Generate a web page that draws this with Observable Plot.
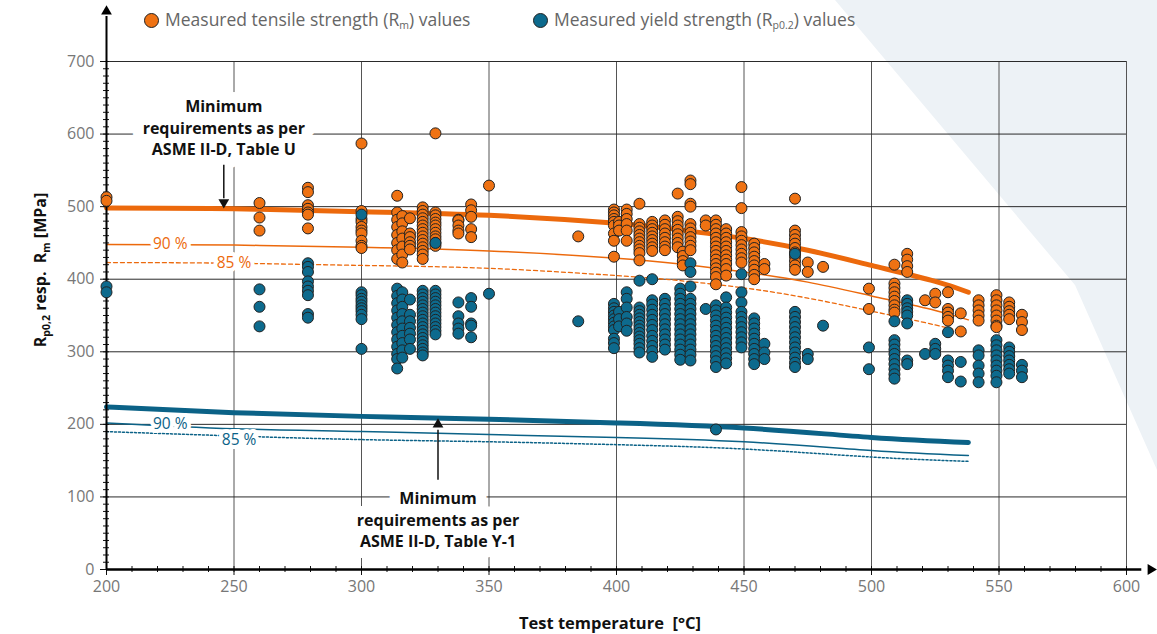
<!DOCTYPE html>
<html><head><meta charset="utf-8">
<script src="https://cdn.jsdelivr.net/npm/d3@7"></script>
<script src="https://cdn.jsdelivr.net/npm/@observablehq/plot@0.6"></script>
<style>
body{margin:0;background:#fff;font-family:"Open Sans",sans-serif;}
#wrap{position:relative;width:1157px;height:634px;overflow:hidden;}
#bg{position:absolute;left:0;top:0;width:1157px;height:634px;background:#edf2f6;clip-path:polygon(835px 0,1157px 0,1157px 470px,1075px 285px);}
#chart{position:absolute;left:0;top:0;}
.leg{position:absolute;top:7px;font-size:17.5px;color:#666;white-space:nowrap;line-height:24px;}
.leg .sw{display:inline-block;width:13px;height:13px;border-radius:50%;border:1px solid #222;vertical-align:-2px;margin-right:6px;}
.leg sub{font-size:10.5px;vertical-align:-3px;line-height:0;}
#ytitle{position:absolute;left:40px;top:270px;transform:translate(-50%,-50%) rotate(-90deg);font-weight:700;font-size:16px;color:#111;white-space:nowrap;}
#ytitle sub{font-size:10.5px;vertical-align:-4px;line-height:0;}
#xtitle{position:absolute;left:610px;top:622px;transform:translate(-50%,-50%);font-weight:700;font-size:16.5px;color:#111;white-space:nowrap;}
</style></head>
<body>
<div id="wrap">
  <div id="bg"></div>
  <div id="chart"></div>
  <div class="leg" style="left:144px"><span class="sw" style="background:#ef7213"></span>Measured tensile strength (R<sub>m</sub>) values</div>
  <div class="leg" style="left:533px"><span class="sw" style="background:#0d6a8d"></span>Measured yield strength (R<sub>p0.2</sub>) values</div>
  <div id="ytitle">R<sub>p0,2</sub> resp.&nbsp; R<sub>m</sub> [MPa]</div>
  <div id="xtitle">Test temperature&nbsp; [°C]</div>
</div>
<script>
// ---- measured values: [temperature °C, [values MPa]] ----
const tensileData = [
  [200,[513,508]],[260,[505,485,467]],[279,[526,520,502,497,492,489,470]],
  [300,[587,494,483,479,472,467,463,453,446,443]],
  [314,[515,492,482,472,461,450,440,428]],[316,[487,477,466,456,445,434,423]],
  [319,[484,463,458,451,446,441]],
  [324,[499,494,489,484,479,474,469,464,459,454,449,444,439,434,428]],
  [329,[601,492,488,483,478,474,469,464,459,455,450,446]],
  [338,[482,481,474,467,463]],[343,[503,495,486,469,458]],[350,[529]],[385,[459]],
  [399,[496,492,488,483,479,474,463,453,431]],[401,[479,474,467]],
  [404,[496,490,483,476,467,453]],[409,[504,476,471,466,461,456,451,446,441,436,426]],
  [414,[479,474,469,464,459,454,449,444,439]],[419,[481,475,469,463,457,451,445,440]],
  [424,[518,486,480,474,468,462,456,450,444]],[426,[438,432,425,419]],
  [429,[536,531,504,500,476,470,464,458,452,446,440]],[435,[481,474]],
  [439,[481,475,469,463,457,451,445,439,433,427,421,415,409,403,393]],
  [443,[469,463,457,451,445,439,433,427,421,414,405]],
  [449,[527,498,465,459,453,447,441,435,429,423]],
  [454,[449,443,437,431,425,419,413,406,400]],[458,[421,414]],
  [470,[511,467,461,455,449,443,437,431,425,419,413]],[475,[423,410]],[481,[417]],
  [499,[387,359]],[509,[420,394,388,382,376,370,364,358,354]],[514,[435,427,418,410]],
  [521,[371]],[525,[380,368]],[530,[382,359,354,348,343]],[535,[353,328]],
  [542,[371,364,357,350,343]],[549,[378,371,364,357,350,343,336,334]],
  [554,[368,362,356,351,345]],[559,[351,341,330]]
];
const yieldData = [
  [200,[390,382]],[260,[386,362,335]],[279,[422,417,410,397,390,384,378,352,347]],
  [300,[489,382,378,373,369,364,360,356,351,345,304]],
  [314,[387,377,367,357,347,337,327,317,307,297,290,277]],
  [316,[382,372,362,352,342,332,322,312,302,292]],
  [319,[372,351,342,333,325,317,304]],
  [324,[384,379,374,369,364,359,354,349,344,339,334,329,324,319,314,309,304,299,295]],
  [329,[450,384,379,374,369,364,359,354,349,344,339,334,329,324]],
  [338,[368,349,339,332,325]],[343,[374,362,339,336,320]],[350,[380]],[385,[342]],
  [399,[366,360,355,350,345,340,335,330,318,312,305]],[401,[355,345,335]],
  [404,[382,373,361,348,339,329]],
  [409,[398,361,356,351,346,341,336,331,326,321,316,311,305,299]],
  [414,[400,371,365,358,351,344,337,330,322,315,308,301,293]],
  [419,[373,366,359,352,345,338,331,324,317,310,303]],
  [425,[387,380,373,366,359,352,345,338,331,324,317,310,303,296,289]],
  [429,[422,410,390,373,366,359,352,345,338,331,324,317,310,303,296,288]],
  [435,[359]],
  [439,[364,357,350,343,336,329,322,315,308,301,294,287,279,193]],
  [443,[375,361,354,347,340,333,326,319,312,305,298,291,284]],
  [449,[407,382,368,355,348,341,334,327,320,313,306]],
  [454,[346,339,332,325,318,311,304,297,290,283]],[458,[311,299,290]],
  [470,[435,355,348,341,334,327,320,313,306,299,292,285,279]],[475,[297,290]],[481,[336]],
  [499,[306,276]],[509,[342,316,310,303,297,290,283,276,269,263]],
  [514,[371,366,360,355,350,339,288,283]],[521,[297]],[525,[311,304,297]],
  [530,[327,288,281,274,265]],[535,[286,259]],[542,[302,295,281,270,258]],
  [549,[316,309,302,295,288,281,274,267,258]],[554,[306,300,294,288,282,276,270]],
  [559,[282,274,265]]
];
// ---- minimum requirement curves ----
const rmTemps = [200,250,300,350,400,425,450,475,500,525,538];
const rmMin   = [498,497,493,488,477,468,456,440,419,397,382];
const rm90    = [448,447,444,439,429,421,410,396,377,357,344];
const rm85    = [423,422,419,415,405,398,388,374,356,337,325];
const rpTemps = [200,250,300,350,400,450,500,538];
const rpMin   = [224,216,211,207,202,195,182,175];
const rp90    = [202,194,190,186,182,176,164,157];
const rp85    = [190,184,179,176,172,166,155,149];
// ---- ticks ----
const xMajor = [200,250,300,350,400,450,500,550,600];
const yMajor = [0,100,200,300,400,500,600,700];
const xMinor = d3.range(200,601,10);
const yMinor = d3.range(0,701,10);
// ---- annotations ----
const notes = [
  {x:246, y:610, text:"Minimum\nrequirements as per\nASME II-D, Table U"},
  {x:330, y:70,  text:"Minimum\nrequirements as per\nASME II-D, Table Y-1"}
];
const arrows = [{x:246, y1:557, y2:511, head:506, rot:180},{x:330, y1:123, y2:192, head:200, rot:0}];
const pctLabels = [
  {x:225, y:449, text:"90 %", c:"orange"},{x:250, y:422, text:"85 %", c:"orange"},
  {x:225, y:201, text:"90 %", c:"blue"},{x:252, y:178, text:"85 %", c:"blue"}
];
const axisEnds = {yTop:762, yArrow:769, xRight:606, xArrow:609.5};

const ORANGE = "#ef7213", BLUE = "#0d6a8d", LORANGE = "#ec690c", LBLUE = "#0b6287";
const flat = arr => arr.flatMap(([t, vs]) => vs.map(v => ({t, v})));
const tens = flat(tensileData), yld = flat(yieldData);
const rmRows = rmTemps.map((t,i)=>({t, m:rmMin[i], p90:rm90[i], p85:rm85[i]}));
const rpRows = rpTemps.map((t,i)=>({t, m:rpMin[i], p90:rp90[i], p85:rp85[i]}));
const noteStyle = {x:"x", y:"y", text:"text", fontWeight:"bold", fontSize:16, lineHeight:1.33};

const plot = Plot.plot({
  width:1157, height:634, marginLeft:106, marginRight:31, marginTop:61, marginBottom:65,
  x:{domain:[200,600]}, y:{domain:[0,700]},
  style:{background:"transparent", fontFamily:"Open Sans, sans-serif", fontSize:"15px"},
  marks:[
    Plot.gridX(xMajor.filter(d=>d>200), {stroke:"#555", strokeOpacity:1, strokeWidth:1}),
    Plot.gridY(yMajor.filter(d=>d>0), {stroke:"#2a2a2a", strokeOpacity:1, strokeWidth:1}),
    // annotation white boxes (halo only), then the text itself
    Plot.text(notes, {...noteStyle, fill:"white", stroke:"white", strokeWidth:22}),
    Plot.text(notes, {...noteStyle, fill:"#111"}),
    // minimum curves
    Plot.line(rmRows, {x:"t", y:"p85", curve:"natural", stroke:LORANGE, strokeWidth:1.3, strokeDasharray:"4,3"}),
    Plot.line(rmRows, {x:"t", y:"p90", curve:"natural", stroke:LORANGE, strokeWidth:1.5}),
    Plot.line(rmRows, {x:"t", y:"m", curve:"natural", stroke:LORANGE, strokeWidth:5}),
    Plot.line(rpRows, {x:"t", y:"p85", curve:"natural", stroke:LBLUE, strokeWidth:1.5, strokeDasharray:"2,2"}),
    Plot.line(rpRows, {x:"t", y:"p90", curve:"natural", stroke:LBLUE, strokeWidth:1.5}),
    Plot.line(rpRows, {x:"t", y:"m", curve:"natural", stroke:LBLUE, strokeWidth:5}),
    Plot.text(pctLabels, {x:"x", y:"y", text:"text", fontSize:15.5, fill:d=>d.c==="orange"?LORANGE:LBLUE, stroke:"white", strokeWidth:8}),
    // arrows
    Plot.ruleX(arrows, {x:"x", y1:"y1", y2:"y2", stroke:"#111", strokeWidth:1.5}),
    Plot.dot(arrows, {x:"x", y:"head", symbol:"triangle", r:4, fill:"#111", stroke:null, rotate:"rot"}),
    // axes
    Plot.axisY(yMinor, {tickSize:6, dx:3, text:null, stroke:"#111"}),
    Plot.axisY(yMajor, {tickSize:6, tickPadding:6, fill:"#777", stroke:"#111", fontSize:16}),
    Plot.axisX(xMinor, {tickSize:6, dy:-3, text:null, stroke:"#111", label:null}),
    Plot.axisX(xMajor, {tickSize:6, tickPadding:5, fill:"#777", stroke:"#111", fontSize:16, label:null}),
    Plot.ruleX([200], {y1:0, y2:axisEnds.yTop, stroke:"#000", strokeWidth:2}),
    Plot.dot([0], {x:()=>200, y:()=>axisEnds.yArrow, symbol:"triangle", r:4, fill:"#000", stroke:null}),
    Plot.ruleY([0], {x1:200, x2:axisEnds.xRight, stroke:"#000", strokeWidth:2.5}),
    Plot.dot([0], {x:()=>axisEnds.xArrow, y:()=>0, symbol:"triangle", r:4, fill:"#000", stroke:null, rotate:90}),
    // measured data
    Plot.dot(tens, {x:"t", y:"v", r:5.5, fill:ORANGE, stroke:"#222", strokeWidth:1}),
    Plot.dot(yld, {x:"t", y:"v", r:5.5, fill:BLUE, stroke:"#222", strokeWidth:1})
  ]
});
document.getElementById("chart").appendChild(plot);
</script>
</body></html>
